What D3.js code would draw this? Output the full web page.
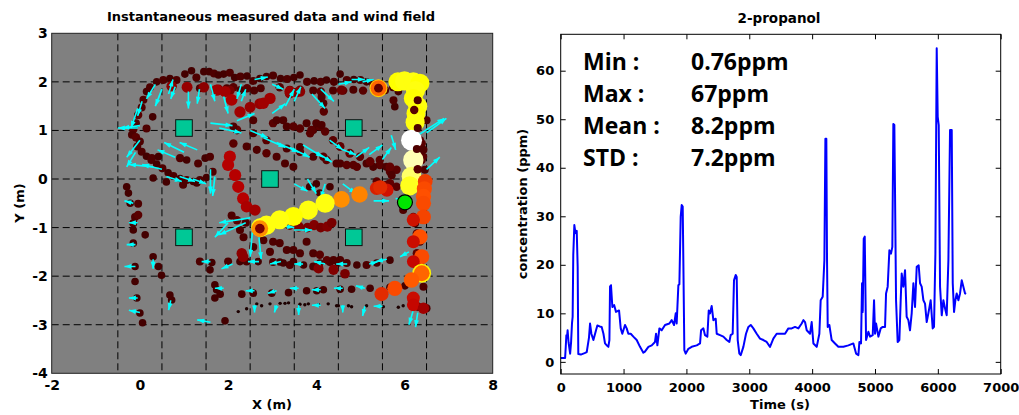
<!DOCTYPE html>
<html>
<head>
<meta charset="utf-8">
<script src="https://cdn.jsdelivr.net/npm/d3@7"></script>
<style>
  body { margin: 0; background: #fff; }
  text { font-family: "DejaVu Sans", sans-serif; font-weight: bold; fill: #000; }
</style>
</head>
<body>
<svg id="chart" width="1019" height="415"></svg>
<script>
// ---- left panel data: [x (m), y (m), concentration (ppm)] ----
const topBand = [
  [0.15,1.8,3],[0.23,1.89,4],[0.38,2.0,3],[0.53,2.04,4],[0.68,2.07,3],[0.83,2.04,4],[1.02,2.16,3],[1.17,2.23,3],
  [1.28,2.09,4],[1.45,2.21,3],[1.57,2.21,3],[1.68,2.17,4],[1.78,2.14,3],[1.9,2.16,3],[2.04,2.19,4],[2.15,2.09,3],
  [2.28,2.11,4],[2.43,2.12,3],[2.57,2.02,4],[2.72,2.07,3],[2.87,2.11,3],[3.02,2.13,4],[3.19,2.07,3],[3.34,2.06,4],
  [3.49,2.09,3],[3.63,2.14,3],[3.79,2.0,4],[3.95,2.02,3],[4.1,2.0,4],[4.23,2.04,3],[4.4,2.0,4],[4.54,2.16,3],
  [4.69,2.04,4],[4.85,2.05,3],[5.0,2.04,4],[5.14,2.0,3],[5.29,1.95,4],[5.74,1.89,4],[5.86,1.8,3],
  [1.36,1.87,4],[1.74,1.83,5],[1.97,1.87,4],[2.12,1.89,5],[2.28,1.83,4],[2.43,1.87,5],[2.59,1.82,4],[2.74,1.87,4],
  [3.17,1.89,5],[3.4,1.84,4],[3.63,1.84,5],[3.93,1.82,4],[4.1,1.8,5],[4.38,1.82,4],[4.61,1.82,5],[4.84,1.84,4],
  [5.06,1.82,5],[5.56,1.83,4],
  [0.72,1.91,10],[1.07,1.89,11],[1.45,1.89,10],[1.78,1.84,9],[2.04,1.82,8],[3.4,1.76,9],[3.55,1.78,8],[4.57,1.83,7],
  [4.12,1.69,4],[4.16,1.56,4],[4.17,1.39,5],[5.78,1.49,3],[5.75,1.62,4]
];
const leftLoop = [
  [0.08,1.63,4],[0.04,1.47,4],[-0.04,1.32,5],[-0.09,1.15,4],[-0.15,1.02,5],[-0.18,0.91,4],[-0.09,0.86,5],[0,0.77,4],
  [-0.06,0.67,4],[0.04,0.56,4],[0.15,0.47,3],[0.26,0.39,4],[0.38,0.31,3],[0.51,0.22,4],[0.64,0.13,3],[0.76,0.06,4],
  [0.91,0.01,3],[1.06,-0.02,4],[1.21,-0.05,3],[1.36,-0.02,4],[1.51,0.03,3],[1.65,0.15,4],
  [0.29,1.28,3],[0.15,1.04,4],[0.27,0.43,4],[0.42,0.46,3],[0.91,0.43,4],[1.06,0.39,3],[1.32,0.32,4],[1.48,0.43,3],
  [1.59,0.46,4],[0.3,0.02,3],[0.6,-0.06,3],[0.98,-0.12,4],[1.29,-0.08,3],
  [-0.3,-0.16,3],[-0.26,-0.29,3],[-0.22,-0.5,3],[-0.04,-0.51,4],[-0.11,-0.78,4],[-0.04,-0.74,5],[-0.15,-0.91,4],
  [-0.15,-1.05,3],[0.12,-1.15,3],[-0.15,-1.32,3],[-0.11,-1.8,3],[-0.11,-2.11,3],[-0.07,-2.45,3],[0.0,-2.76,3],
  [0.06,-2.96,3],[0.3,-1.6,3],[0.42,-1.8,3],[0.49,-1.98,3],[0.68,-2.39,3],[0.72,-2.49,3]
];
const midLoop = [
  [1.74,1.83,12],[1.93,1.8,12],[2.08,1.63,13],[2.27,1.38,12],[2.2,1.01,6],[2.12,0.73,5],[2.04,0.46,14],[2.0,0.29,14],
  [2.16,0.08,14],[2.23,-0.16,14],[2.34,-0.4,14],[2.42,-0.57,13],[2.61,-0.64,12],
  [2.5,1.48,11],[2.72,1.55,11],[2.8,1.56,12],[2.95,1.66,12],[3.4,1.8,11],[3.63,1.8,10],
  [2.12,1.08,4],[2.57,0.94,4],[2.87,0.8,5],[3.33,0.63,4],[3.63,0.56,5],[3.93,0.46,4],[4.23,0.39,5],[4.54,0.32,4],
  [4.84,0.29,5],[5.14,0.32,4],[5.44,0.29,5],[5.59,0.25,4],[5.82,0.19,5],
  [2.57,1.21,4],[3.02,1.15,5],[3.33,1.08,4],[3.63,1.04,5],[3.93,1.01,4],[4.08,1.08,5],[4.0,1.15,4],[4.2,0.98,5],
  [3.25,1.21,4],[3.86,0.94,5],[3.63,0.66,4],[4.16,0.46,5],[4.46,0.32,4],[4.69,0.29,5],[4.92,0.25,5],[5.29,0.25,4],
  [5.67,0.15,5],[3.1,1.21,4],[3.48,1.08,5],[3.78,1.15,4],[3.89,1.01,5],[4.12,1.11,4],[4.38,0.8,5],[4.54,0.67,6],
  [4.76,0.53,6],[4.99,0.46,5],[5.22,0.36,6],[5.44,0.39,5],[5.67,0.25,6],[5.37,-0.05,5],[5.59,-0.12,5],[5.71,0.08,4],
  [2.42,0.67,4],[2.65,0.6,4],[2.87,0.53,5],[3.1,0.46,4],[3.29,0.32,4],[3.48,0.25,4],
  [3.85,-0.16,3],[4.08,-0.29,3],[4.31,-0.16,3],[4.0,-0.1,3]
];
const lowerRows = [
  [1.36,-1.7,4],[1.63,-1.72,3],[2.0,-1.7,4],[2.27,-1.7,3],[2.42,-1.7,4],[2.68,-1.7,3],[3.02,-1.71,4],[3.17,-1.71,3],
  [3.4,-1.77,4],[3.71,-1.77,3],[3.93,-1.8,4],[4.08,-1.73,3],[4.31,-1.71,4],[4.5,-1.73,3],[4.69,-1.73,4],[3.25,-1.73,3],
  [3.48,-1.7,3],[4.92,-1.77,3],[5.14,-1.77,4],[5.37,-1.73,3],[5.67,-1.67,3],
  [2.31,-1.53,10],[2.34,-1.6,10],[4.05,-1.84,9],[4.39,-1.87,9],[4.65,-1.95,8],
  [1.7,-2.18,3],[1.74,-2.28,3],[1.82,-2.37,3],[2.31,-2.37,3],[2.57,-2.35,3],[2.99,-2.35,3],[3.37,-2.34,3],[3.78,-2.3,3],
  [4.01,-2.3,3],[4.16,-2.28,3],[4.54,-2.27,3],[4.8,-2.27,3],[5.22,-2.25,3],[5.67,-2.23,3],[6.01,-2.2,3],
  [2.23,-2.73,0.5],[2.42,-2.67,0.5],[2.65,-2.57,0.5],[2.76,-2.61,0.5],[2.95,-2.57,0.5],[3.18,-2.56,0.5],[3.37,-2.55,0.5],
  [3.63,-2.58,0.5],[3.82,-2.57,0.5],[4.05,-2.59,0.5],[4.27,-2.57,0.5],[4.46,-2.61,0.5],[4.73,-2.61,0.5],[3.29,-2.56,0.5],
  [3.74,-2.59,0.5],[4.5,-2.61,0.5],[4.8,-2.63,0.5],[5.14,-2.61,0.5],[5.52,-2.63,0.5],[5.86,-2.64,0.5],[5.97,-2.61,0.5],
  [2.57,-1.4,4],[2.8,-1.26,4],[2.95,-1.5,4],[3.02,-1.29,4],[3.17,-1.32,4],[3.33,-1.46,4],[3.48,-1.46,4],[3.63,-1.53,4],
  [3.78,-1.29,4],[3.93,-1.53,4],[4.08,-1.56,5],[4.24,-1.67,5],[4.39,-1.67,4],[4.54,-1.67,4],
  [2.08,-0.75,4],[2.2,-0.85,5],[2.27,-1.05,4],[2.4,-0.9,4],[2.35,-1.2,4],
  [3.4,-0.95,8],[3.6,-0.98,9],[3.8,-1.0,8],[3.95,-0.95,9],[4.1,-1.0,8],[4.25,-0.98,9],[4.35,-0.9,8],
  [1.59,-1.87,3],[1.93,-2.92,3],[1.7,-2.45,3]
];
const rightColumn = [
  [6.24,1.08,5],[6.39,0.73,5],[6.42,0.46,5],[6.46,0.19,4],[6.35,0.8,5],[6.39,0.39,5],[6.43,0.6,4],[6.5,1.21,4],
  [5.44,-0.12,6],[5.67,-0.09,6],[5.82,-0.16,5],[5.97,-0.64,4],[6.2,-0.78,5],[6.24,-0.91,4],[6.28,-1.12,5],
  [6.35,-1.29,4],[6.28,-1.53,5],[6.35,-1.73,4],[6.43,-2.22,4],[6.5,-2.66,4],[6.31,-2.63,5]
];
const hotSpots = [
  [5.6,-0.23,18],[5.37,-0.19,20],[5.45,-0.17,22],[4.98,-0.32,33],[4.57,-0.42,34],[4.2,-0.5,46],[3.82,-0.64,46],
  [3.48,-0.77,45],[3.17,-0.84,46],[2.87,-0.95,46],[2.74,-1.0,46],[2.72,-1.02,34],[2.72,-1.02,8],
  [5.85,2.0,45],[6.0,2.02,46],[6.2,2.0,46],[6.35,1.97,45],[6.25,1.82,46],[6.2,1.66,45],[6.3,1.5,46],[6.26,1.35,45],
  [6.24,1.17,46],[6.16,0.8,62],[6.2,0.39,57],[6.16,0.05,52],[6.12,-0.14,47],
  [5.41,1.87,40],[5.41,1.87,30],[5.41,1.87,6],
  [6.47,-0.05,25],[6.45,-0.2,27],[6.43,-0.36,28],[6.43,-0.5,27],[6.43,-0.78,26],[6.2,-0.84,18],[6.35,-1.19,28],
  [6.2,-1.29,17],[6.39,-1.6,27],[6.2,-1.7,16],[6.39,-1.94,44],[6.39,-1.94,30],[6.16,-2.08,29],[5.78,-2.25,27],
  [5.48,-2.37,22],[6.2,-2.45,17],[6.2,-2.59,16],[6.43,-2.66,12],
  [6.3,1.62,4],[6.22,1.42,5],[6.3,1.05,4],[6.28,0.62,4],[6.3,0.2,5]
];
// wind field: [x, y, u, v] in metres
const windField = [
  [0.35,1.95,-0.2,-0.3],[0.5,1.85,-0.15,-0.35],[0.65,1.75,0.1,0.3],[0.8,1.9,-0.1,-0.25],[1.1,1.8,0.0,-0.35],
  [1.35,1.85,-0.05,-0.3],[1.6,1.95,0.1,-0.35],[1.9,1.7,0.1,-0.35],[2.3,1.95,-0.1,-0.3],[2.6,2.05,0.3,0.05],
  [3.0,1.95,0.25,-0.1],[3.3,1.5,0.2,0.35],[3.5,1.6,0.15,0.3],[3.9,1.75,0.3,-0.3],[4.1,1.85,0.3,-0.25],
  [4.5,1.95,0.3,0.05],[4.8,2.05,0.3,0.0],[5.05,2.0,0.25,0.05],
  [-0.05,1.05,-0.45,0.0],[0.0,1.1,-0.4,-0.05],[-0.05,1.45,-0.15,-0.4],[0.05,1.6,-0.1,-0.3],[0.0,0.8,-0.3,-0.35],
  [-0.1,0.55,-0.2,-0.3],[0.3,0.25,-0.55,0.05],[0.5,0.2,-0.45,0.1],[0.8,0.45,-0.4,0.15],[1.0,0.55,-0.45,0.2],
  [1.3,0.6,-0.4,0.15],[0.6,0.05,0.35,-0.1],[0.9,0.05,0.35,-0.1],[1.2,0.0,0.3,-0.1],[1.6,0.2,0.0,-0.5],
  [1.7,0.05,-0.05,-0.4],
  [1.6,1.15,0.5,-0.05],[1.8,1.05,0.5,-0.1],[2.2,1.2,0.4,0.15],[2.5,1.0,0.4,-0.15],[2.8,0.85,0.5,-0.2],
  [3.1,0.75,0.5,-0.2],[3.4,0.65,0.45,-0.2],[3.7,0.7,0.45,-0.25],[4.0,0.55,0.35,-0.2],[3.0,1.35,0.3,0.2],
  [2.3,1.6,0.1,0.25],[4.3,0.8,0.3,-0.2],[4.6,0.6,0.3,-0.1],[4.9,0.45,0.3,0.2],[5.2,0.5,0.3,0.2],[5.5,0.4,0.2,0.25],
  [6.3,0.9,0.6,0.35],[6.5,0.95,0.45,0.3],[6.5,0.2,0.3,0.25],[5.7,0.9,0.1,-0.3],
  [3.5,-0.1,0.3,-0.15],[3.8,0.0,0.2,-0.3],[4.2,-0.1,-0.1,-0.3],[4.6,-0.1,0.3,-0.2],[5.3,-0.45,0.35,0.0],
  [2.5,-0.8,-0.7,-0.1],[2.4,-0.9,-0.6,-0.25],[2.55,-1.1,-0.05,-0.5],[2.7,-1.2,0.05,-0.45],[3.1,-0.95,0.4,-0.05],
  [3.5,-1.05,0.4,0.0],[2.0,-0.9,-0.3,-0.3],
  [1.6,-1.7,-0.2,0.0],[2.1,-1.75,-0.25,-0.1],[2.7,-1.7,-0.25,0.0],[3.2,-1.7,-0.25,-0.05],[3.7,-1.75,-0.2,0.0],
  [4.2,-1.75,-0.25,0.05],[4.7,-1.75,-0.25,0.0],[5.2,-1.75,0.2,0.05],[5.6,-1.65,-0.25,-0.05],
  [1.9,-2.25,-0.2,0.0],[2.6,-2.3,-0.2,0.0],[3.1,-2.3,-0.2,-0.05],[3.6,-2.25,-0.2,0.0],[4.1,-2.28,-0.2,0.0],
  [4.6,-2.25,-0.2,0.0],[5.1,-2.25,-0.2,0.05],
  [2.6,-2.6,0.0,-0.15],[3.1,-2.6,-0.05,-0.15],[3.6,-2.6,0.0,-0.2],[4.1,-2.6,-0.2,0.0],[4.6,-2.6,0.0,-0.15],
  [5.1,-2.62,-0.05,-0.2],[5.5,-2.62,-0.2,0.0],[6.2,-2.7,-0.1,-0.3],[6.3,-2.75,-0.05,-0.3],[6.1,-1.5,-0.2,-0.1],
  [5.8,-0.4,0.3,-0.05],
  [-0.15,-0.5,-0.2,0.05],[-0.05,-0.9,-0.2,0.0],[-0.1,-1.35,-0.2,0.0],[-0.1,-1.8,-0.25,0.0],[-0.05,-2.45,-0.2,0.0],
  [0.0,-2.75,-0.25,0.05],[0.3,-1.65,0.0,-0.2],[0.7,-2.5,-0.05,-0.2],[1.6,-2.95,-0.3,0.05]
];
const obstacles = [[1, 1.05], [4.85, 1.05], [2.95, 0.0], [1, -1.2], [4.85, -1.2]];
const robotPos = [6.01, -0.48];
const xTicksL = [-2, 0, 2, 4, 6, 8];
const yTicksL = [-4, -3, -2, -1, 0, 1, 2, 3];
const gridXL = [-0.5, 0.5, 1.5, 2.5, 3.5, 4.5, 5.5, 6.5];
const gridYL = [-3, -2, -1, 0, 1, 2];

// ---- right panel data: 2-propanol time series ----
const timeS = [0,70,80,90,100,110,125,150,165,180,190,200,217,230,240,255,270,280,320,380,414,450,467,488,520,562,583,620,652,680,705,740,758,775,785,800,822,850,880,928,955,980,1023,1050,1076,1114,1156,1209,1262,1315,1340,1395,1448,1500,1517,1538,1570,1607,1660,1729,1766,1803,1830,1845,1872,1888,1909,1925,1941,1951,1967,1989,2031,2084,2164,2217,2233,2270,2296,2333,2355,2376,2402,2429,2466,2482,2535,2588,2641,2683,2704,2736,2757,2784,2800,2816,2842,2864,2906,2948,2986,3023,3065,3118,3171,3224,3277,3330,3383,3436,3516,3569,3622,3675,3728,3781,3834,3861,3887,3914,3967,3993,4020,4073,4115,4136,4168,4195,4211,4226,4237,4248,4274,4311,4364,4417,4497,4577,4656,4699,4736,4752,4778,4794,4805,4821,4837,4858,4895,4922,4964,4985,5001,5017,5054,5091,5123,5160,5176,5202,5229,5255,5276,5292,5308,5319,5335,5361,5388,5409,5425,5451,5478,5504,5531,5557,5584,5611,5637,5664,5695,5717,5743,5770,5796,5823,5849,5886,5918,5939,5961,5982,5998,6014,6035,6062,6088,6115,6141,6168,6194,6221,6237,6258,6279,6300,6327,6353,6380,6406,6433,6450];
const concPpm = [0.8,0.8,3,5.5,5,6.5,4,1.7,4,8,9.3,22,28.2,27,26.5,27,19.6,1.6,1.5,1.8,2,5,7.9,5.8,4.5,6.5,7.5,7.3,7.2,5.8,3.8,3.3,3.1,4.5,15.5,15.8,11.3,11.7,10.3,10.6,6.9,5.8,7.6,6.9,5.8,5.8,5.2,4.5,3.1,1.9,2.1,3.1,3.4,4.1,5.8,3.4,6.9,6.5,7.6,7.9,8.6,7.6,10,7.9,15.8,16,29.9,32.3,32,21,2.4,1.7,2.7,3.1,3.4,3.8,6.5,6.9,5.5,5.2,10.6,10,11.5,8.6,8.9,5.8,5.5,5.2,4.5,4.1,5.5,5.8,16.8,17.9,17.5,4.5,1.7,1.4,3.1,5.8,7.2,7.6,6.9,5.8,4.8,4.5,4.1,3.1,4.8,5.8,5.8,5.8,6.9,6.9,7.2,6.9,7.9,8.6,8.2,6.5,5.8,8.2,3.8,3.1,5.8,12.7,13.4,21,46,46,21,7.2,7.6,4.5,3.8,3.1,3.1,3.4,3.8,1.7,1.4,4.1,3.8,16.2,10.3,25.4,25.8,4.5,6.2,5.2,5.5,12.7,5.8,7.9,5.2,6.9,7.2,7.2,14.1,15.5,23,22.3,23.7,49,48.8,34.7,12.7,4.1,4.5,12.7,18.2,15.5,18.9,9.3,8.6,6.5,10,16.2,11.3,19.6,19.9,16.2,15.5,12.7,12,8.2,10,12.7,6.9,7.2,22.3,64.6,50.5,48.8,15.5,9.6,12.7,11,9.6,21,47.8,47.8,16.2,10.3,12.7,14.1,12.7,14.1,16.8,15.5,14.1,14];
const xTicksR = [0, 1000, 2000, 3000, 4000, 5000, 6000, 7000];
const yTicksR = [0, 10, 20, 30, 40, 50, 60];
const statLabels = ["Min :", "Max :", "Mean :", "STD :"];
const statValues = ["0.76ppm", "67ppm", "8.2ppm", "7.2ppm"];

const svg = d3.select("#chart");

// ================= left panel =================
const xL = d3.scaleLinear().domain([-2, 8]).range([51.7, 492.7]);
const yL = d3.scaleLinear().domain([-4, 3]).range([373.3, 33.3]);
const heat = d3.scaleLinear()
    .domain([0, 3, 15, 28, 45, 62])
    .range(["#140000", "#440000", "#c00000", "#ff5000", "#ffff00", "#ffffff"])
    .clamp(true);
const radius = d3.scaleLinear()
    .domain([0, 3, 15, 45, 62])
    .range([1.3, 3.8, 6.3, 9.5, 10.5])
    .clamp(true);

svg.append("defs").append("clipPath").attr("id", "clipL")
    .append("rect")
    .attr("x", xL(-2)).attr("y", yL(3))
    .attr("width", xL(8) - xL(-2)).attr("height", yL(-4) - yL(3));

const left = svg.append("g");
left.append("rect")
    .attr("x", xL(-2)).attr("y", yL(3))
    .attr("width", xL(8) - xL(-2)).attr("height", yL(-4) - yL(3))
    .attr("fill", "#808080");

const plotL = left.append("g").attr("clip-path", "url(#clipL)");

plotL.append("g").selectAll("line")
    .data(gridXL)
    .join("line")
    .attr("x1", d => xL(d)).attr("x2", d => xL(d))
    .attr("y1", yL(3)).attr("y2", yL(-4));
plotL.append("g").selectAll("line")
    .data(gridYL)
    .join("line")
    .attr("x1", xL(-2)).attr("x2", xL(8))
    .attr("y1", d => yL(d)).attr("y2", d => yL(d));
plotL.selectAll("line")
    .attr("stroke", "#000")
    .attr("stroke-width", 1)
    .attr("stroke-dasharray", "7,4");

const background = [topBand, leftLoop, midLoop, lowerRows, rightColumn].flat();
plotL.append("g").selectAll("circle")
    .data(background)
    .join("circle")
    .attr("cx", d => xL(d[0]))
    .attr("cy", d => yL(d[1]))
    .attr("r", d => radius(d[2]))
    .attr("fill", d => heat(d[2]));

// wind arrows
const arrows = plotL.append("g").attr("fill", "#00ffff").attr("stroke", "#00ffff");
windField.forEach(([x, y, u, v]) => {
    const x0 = xL(x), y0 = yL(y), x1 = xL(x + u), y1 = yL(y + v);
    const a = Math.atan2(y1 - y0, x1 - x0);
    const hl = 7, hw = 2.4;
    arrows.append("line")
        .attr("x1", x0).attr("y1", y0).attr("x2", x1).attr("y2", y1)
        .attr("stroke-width", 1.6);
    arrows.append("path")
        .attr("stroke", "none")
        .attr("d", `M${x1},${y1}L${x1 - hl * Math.cos(a) + hw * Math.sin(a)},${y1 - hl * Math.sin(a) - hw * Math.cos(a)}L${x1 - hl * Math.cos(a) - hw * Math.sin(a)},${y1 - hl * Math.sin(a) + hw * Math.cos(a)}Z`);
});

plotL.append("g").selectAll("circle")
    .data(hotSpots)
    .join("circle")
    .attr("cx", d => xL(d[0]))
    .attr("cy", d => yL(d[1]))
    .attr("r", d => radius(d[2]))
    .attr("fill", d => heat(d[2]));

plotL.append("g").selectAll("rect")
    .data(obstacles)
    .join("rect")
    .attr("x", d => xL(d[0]) - 8.3)
    .attr("y", d => yL(d[1]) - 8.3)
    .attr("width", 16.6).attr("height", 16.6)
    .attr("fill", "#00c896")
    .attr("stroke", "#111")
    .attr("stroke-width", 1);

plotL.append("circle")
    .attr("cx", xL(robotPos[0]))
    .attr("cy", yL(robotPos[1]))
    .attr("r", 7.5)
    .attr("fill", "#00e600")
    .attr("stroke", "#000")
    .attr("stroke-width", 1.2);

left.append("rect")
    .attr("x", xL(-2)).attr("y", yL(3))
    .attr("width", xL(8) - xL(-2)).attr("height", yL(-4) - yL(3))
    .attr("fill", "none").attr("stroke", "#222").attr("stroke-width", 1);

const axXL = left.append("g")
    .attr("transform", `translate(0,${yL(-4)})`)
    .call(d3.axisBottom(xL).tickValues(xTicksL).tickSize(0).tickPadding(7).tickFormat(d => String(d)));
const axYL = left.append("g")
    .attr("transform", `translate(${xL(-2)},0)`)
    .call(d3.axisLeft(yL).tickValues(yTicksL).tickSize(0).tickPadding(4).tickFormat(d => String(d)));
[axXL, axYL].forEach(g => {
    g.select(".domain").remove();
    g.attr("font-family", null).attr("font-size", null);
    g.selectAll("text").style("font-size", "14px");
});

left.append("text")
    .attr("x", 271).attr("y", 21)
    .attr("text-anchor", "middle")
    .style("font-size", "13px")
    .text("Instantaneous measured data and wind field");
left.append("text")
    .attr("x", 272).attr("y", 409)
    .attr("text-anchor", "middle")
    .style("font-size", "13px")
    .text("X (m)");
left.append("text")
    .attr("transform", "translate(23.5,203) rotate(-90)")
    .attr("text-anchor", "middle")
    .style("font-size", "13px")
    .text("Y (m)");

// ================= right panel =================
const xR = d3.scaleLinear().domain([0, 7000]).range([560.7, 1000.7]);
const yR = d3.scaleLinear().domain([-2.5, 67.5]).range([374, 34.3]);
const right = svg.append("g");

right.append("path")
    .datum(timeS.map((t, i) => [t, concPpm[i]]))
    .attr("fill", "none")
    .attr("stroke", "#0000ff")
    .attr("stroke-width", 2)
    .attr("stroke-linejoin", "round")
    .attr("d", d3.line().x(d => xR(d[0])).y(d => yR(d[1])));

right.append("rect")
    .attr("x", xR(0)).attr("y", yR(67.5))
    .attr("width", xR(7000) - xR(0)).attr("height", yR(-2.5) - yR(67.5))
    .attr("fill", "none").attr("stroke", "#000").attr("stroke-width", 1);

const axXR = right.append("g")
    .attr("transform", `translate(0,${yR(-2.5)})`)
    .call(d3.axisBottom(xR).tickValues(xTicksR).tickSize(-5).tickSizeOuter(0).tickPadding(8.5).tickFormat(d => String(d)));
const axYR = right.append("g")
    .attr("transform", `translate(${xR(0)},0)`)
    .call(d3.axisLeft(yR).tickValues(yTicksR).tickSize(-5).tickSizeOuter(0).tickPadding(6.5).tickFormat(d => String(d)));
const axTopR = right.append("g")
    .attr("transform", `translate(0,${yR(67.5)})`)
    .call(d3.axisTop(xR).tickValues(xTicksR).tickSize(-5).tickSizeOuter(0).tickFormat(""));
const axRightR = right.append("g")
    .attr("transform", `translate(${xR(7000)},0)`)
    .call(d3.axisRight(yR).tickValues(yTicksR).tickSize(-5).tickSizeOuter(0).tickFormat(""));
[axXR, axYR, axTopR, axRightR].forEach(g => {
    g.select(".domain").remove();
    g.attr("font-family", null).attr("font-size", null);
    g.selectAll("text").style("font-size", "13px");
});

right.append("text")
    .attr("x", 779).attr("y", 22.5)
    .attr("text-anchor", "middle")
    .style("font-size", "13.5px")
    .text("2-propanol");
right.append("text")
    .attr("x", 780).attr("y", 409)
    .attr("text-anchor", "middle")
    .style("font-size", "13px")
    .text("Time (s)");
right.append("text")
    .attr("transform", "translate(527,204) rotate(-90)")
    .attr("text-anchor", "middle")
    .style("font-size", "13px")
    .text("concentration (ppm)");

const stats = right.append("g");
stats.selectAll(".lab")
    .data(statLabels)
    .join("text")
    .attr("x", 583)
    .attr("y", (d, i) => 70 + i * 32)
    .style("font-family", "'Open Sans', sans-serif")
    .style("font-size", "23px")
    .text(d => d);
stats.selectAll(".val")
    .data(statValues)
    .join("text")
    .attr("x", 691)
    .attr("y", (d, i) => 70 + i * 32)
    .style("font-family", "'Open Sans', sans-serif")
    .style("font-size", "23px")
    .text(d => d);
</script>
</body>
</html>
